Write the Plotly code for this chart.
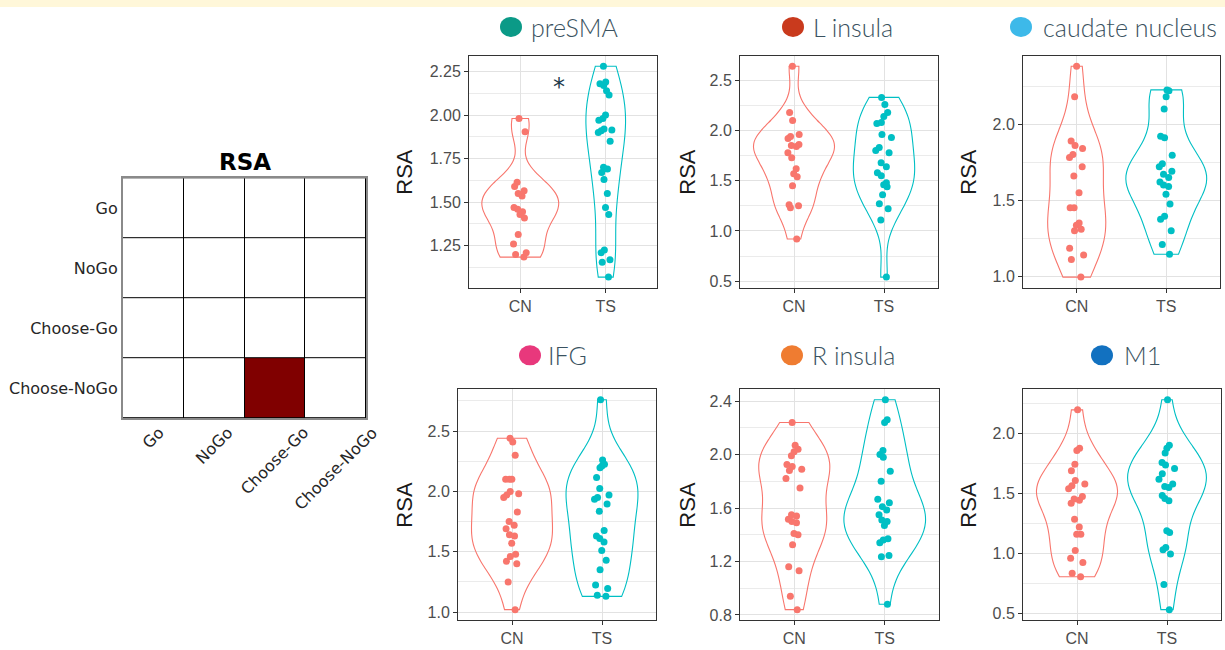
import numpy as np
import plotly.graph_objects as go

W, H = 1225, 650

# ---------------- data ----------------
groups = ["CN", "TS"]
group_colors = ["#F8766D", "#00BFC4"]

conditions = ["Go", "NoGo", "Choose-Go", "Choose-NoGo"]
rsa_matrix = [
    [0, 0, 0, 0],
    [0, 0, 0, 0],
    [0, 0, 0, 0],
    [0, 0, 1, 0],
]

regions = ["preSMA", "L insula", "caudate nucleus", "IFG", "R insula", "M1"]
region_colors = ["#0b9a87", "#c93a1d", "#3db9e9", "#e8387c", "#ef7c31", "#1271c0"]

presma_cn = [1.98, 1.905, 1.615, 1.59, 1.565, 1.55, 1.535, 1.47, 1.46, 1.445, 1.43,
             1.41, 1.315, 1.26, 1.21, 1.20, 1.185]
presma_ts = [2.28, 2.19, 2.18, 2.17, 2.14, 2.115, 2.00, 1.98, 1.97, 1.92, 1.915, 1.91,
             1.90, 1.85, 1.70, 1.69, 1.67, 1.63, 1.55, 1.47, 1.43, 1.225, 1.21, 1.17,
             1.155, 1.07]

linsula_cn = [2.64, 2.18, 2.10, 1.96, 1.94, 1.92, 1.86, 1.85, 1.84, 1.78, 1.73, 1.62,
              1.57, 1.54, 1.45, 1.26, 1.25, 1.23, 0.92]
linsula_ts = [2.33, 2.26, 2.18, 2.14, 2.08, 2.07, 1.96, 1.93, 1.83, 1.80, 1.78, 1.68,
              1.64, 1.58, 1.55, 1.48, 1.46, 1.44, 1.36, 1.27, 1.22, 1.11, 0.54]

caudate_cn = [2.38, 2.18, 1.89, 1.86, 1.84, 1.80, 1.78, 1.72, 1.66, 1.55, 1.45, 1.45,
              1.35, 1.335, 1.31, 1.30, 1.185, 1.14, 1.11, 0.995]
caudate_ts = [2.225, 2.22, 2.18, 2.10, 1.92, 1.91, 1.795, 1.74, 1.72, 1.69, 1.67, 1.65,
              1.62, 1.60, 1.59, 1.54, 1.475, 1.395, 1.375, 1.30, 1.21, 1.145]

ifg_cn = [2.44, 2.41, 2.30, 2.10, 2.10, 2.10, 2.00, 1.98, 1.97, 1.95, 1.83, 1.75, 1.72,
          1.69, 1.64, 1.63, 1.57, 1.48, 1.46, 1.42, 1.40, 1.25, 1.02]
ifg_ts = [2.76, 2.26, 2.225, 2.21, 2.195, 2.115, 2.025, 1.97, 1.95, 1.935, 1.895, 1.835,
          1.675, 1.63, 1.61, 1.58, 1.51, 1.43, 1.35, 1.225, 1.195, 1.14, 1.13]

rinsula_cn = [2.24, 2.07, 2.04, 2.02, 1.99, 1.925, 1.91, 1.89, 1.88, 1.82, 1.75, 1.55,
              1.54, 1.515, 1.50, 1.49, 1.41, 1.40, 1.325, 1.16, 1.13, 0.94, 0.84]
rinsula_ts = [2.41, 2.26, 2.24, 2.03, 2.00, 1.98, 1.875, 1.80, 1.665, 1.64, 1.61, 1.585,
              1.55, 1.51, 1.50, 1.47, 1.37, 1.36, 1.34, 1.245, 1.235, 0.88]

m1_cn = [2.20, 1.88, 1.86, 1.745, 1.69, 1.61, 1.58, 1.565, 1.54, 1.475, 1.455, 1.445,
         1.42, 1.285, 1.22, 1.16, 1.16, 1.025, 0.96, 0.925, 0.835, 0.805]
m1_ts = [2.285, 1.905, 1.88, 1.84, 1.76, 1.74, 1.71, 1.665, 1.62, 1.58, 1.56, 1.55,
         1.485, 1.46, 1.44, 1.19, 1.175, 1.05, 1.03, 0.995, 0.74, 0.53]

region_data = [
    (presma_cn, presma_ts),
    (linsula_cn, linsula_ts),
    (caudate_cn, caudate_ts),
    (ifg_cn, ifg_ts),
    (rinsula_cn, rinsula_ts),
    (m1_cn, m1_ts),
]
y_dticks = [0.25, 0.5, 0.5, 0.5, 0.4, 0.5]
y_formats = [".2f", ".1f", ".1f", ".1f", ".1f", ".1f"]

# ---------------- layout geometry (pixels) ----------------
panel_boxes = [
    (469, 657, 56, 289), (740, 938, 56, 289), (1023, 1220, 56, 289),
    (458, 656, 391, 623), (740, 939, 391, 623), (1023, 1221, 391, 623),
]
ytitle_x = [405, 688, 969, 405, 688, 969]
title_pos = [  # dot centre x, text start x, centre y
    (511, 529, 27), (793, 811, 27), (1021, 1041, 27),
    (530, 546, 357), (792, 810, 357), (1102, 1122, 357),
]
hm_box = (123, 366, 179, 420)

TICK_FONT = dict(family="Liberation Sans, Arial, sans-serif", size=16, color="#4d4d4d")
TITLE_COLOR = "#3a5260"


def px_x(p):
    return p / W


def px_y(p):
    return 1 - p / H


def bw_nrd0(v):
    v = np.asarray(v, dtype=float)
    sd = v.std(ddof=1)
    q75, q25 = np.percentile(v, [75, 25])
    lo = min(sd, (q75 - q25) / 1.34)
    return 0.9 * lo * len(v) ** -0.2


def max_kde(v, bw):
    v = np.asarray(v, dtype=float)
    grid = np.linspace(v.min(), v.max(), 600)
    d = np.exp(-0.5 * ((grid[:, None] - v[None, :]) / bw) ** 2).sum(1)
    return (d / (len(v) * bw * np.sqrt(2 * np.pi))).max()


fig = go.Figure()
layout = dict(
    width=W, height=H, margin=dict(l=0, r=0, t=0, b=0),
    paper_bgcolor="white", plot_bgcolor="white", showlegend=False,
    violinmode="overlay",
)
annotations = []
shapes = [
    dict(type="rect", xref="paper", yref="paper", x0=0, x1=1, y0=px_y(7), y1=1,
         fillcolor="#fff7d9", line_width=0, layer="below"),
]

for i, (vals_pair, (x0, x1, y0, y1)) in enumerate(zip(region_data, panel_boxes)):
    k = i + 1
    xa = "x" if k == 1 else f"x{k}"
    ya = "y" if k == 1 else f"y{k}"
    bws = [bw_nrd0(v) for v in vals_pair]
    mks = [max_kde(v, b) for v, b in zip(vals_pair, bws)]
    widths = [0.9 * m / max(mks) for m in mks]
    for g, col, vals, bw, w in zip(groups, group_colors, vals_pair, bws, widths):
        fig.add_trace(go.Violin(
            x=[g] * len(vals), y=vals, name=g, xaxis=xa, yaxis=ya,
            line=dict(color=col, width=1.1), fillcolor="rgba(0,0,0,0)",
            points="all", pointpos=0, jitter=min(1.0, 0.1 / (w / 2)),
            marker=dict(size=7, color=col), spanmode="hard", bandwidth=bw,
            width=w, scalemode="width", showlegend=False, hoverinfo="y",
        ))
    allv = list(vals_pair[0]) + list(vals_pair[1])
    lo, hi = min(allv), max(allv)
    pad = 0.05 * (hi - lo)
    dt = y_dticks[i]
    layout["xaxis" if k == 1 else f"xaxis{k}"] = dict(
        domain=[px_x(x0), px_x(x1)], anchor=ya, type="category",
        categoryorder="array", categoryarray=groups, range=[-0.6, 1.6],
        showgrid=True, gridcolor="#e2e2e2", gridwidth=1, zeroline=False,
        ticks="outside", ticklen=4, tickcolor="#333333", tickwidth=1,
        showline=True, mirror=True, linecolor="#333333", linewidth=1,
        tickfont=TICK_FONT, fixedrange=True,
    )
    layout["yaxis" if k == 1 else f"yaxis{k}"] = dict(
        domain=[px_y(y1), px_y(y0)], anchor=xa, range=[lo - pad, hi + pad],
        tick0=0, dtick=dt, tickformat=y_formats[i],
        showgrid=True, gridcolor="#e2e2e2", gridwidth=1, zeroline=False,
        minor=dict(tick0=0, dtick=dt / 2, showgrid=True, gridcolor="#ebebeb",
                   gridwidth=0.8, ticks=""),
        ticks="outside", ticklen=4, tickcolor="#333333", tickwidth=1,
        showline=True, mirror=True, linecolor="#333333", linewidth=1,
        tickfont=TICK_FONT, fixedrange=True,
    )
    # y axis title
    annotations.append(dict(
        x=px_x(ytitle_x[i]), y=px_y((y0 + y1) / 2), xref="paper", yref="paper",
        text="RSA", textangle=-90, showarrow=False, xanchor="center", yanchor="middle",
        font=dict(family="Liberation Sans, Arial, sans-serif", size=22, color="#1a1a1a"),
    ))
    # region title with coloured dot
    dcx, tx, ty = title_pos[i]
    shapes.append(dict(
        type="circle", xref="paper", yref="paper", xsizemode="pixel", ysizemode="pixel",
        xanchor=px_x(dcx), yanchor=px_y(ty), x0=-11, x1=11, y0=-10, y1=10,
        fillcolor=region_colors[i], line_width=0,
    ))
    annotations.append(dict(
        x=px_x(tx), y=px_y(ty), xref="paper", yref="paper", text=regions[i],
        showarrow=False, xanchor="left", yanchor="middle",
        font=dict(family="Lato, sans-serif", size=25, color=TITLE_COLOR, weight=300),
    ))

# significance star on preSMA panel
annotations.append(dict(
    x=0.45, y=2.16, xref="x", yref="y", text="*", showarrow=False,
    xanchor="center", yanchor="middle",
    font=dict(family="DejaVu Sans, sans-serif", size=24, color="#1d3a4a"),
))

# ---------------- RSA model matrix ----------------
fig.add_trace(go.Heatmap(
    z=rsa_matrix, x=list(range(len(conditions))), y=list(range(len(conditions))),
    colorscale=[[0, "#ffffff"], [1, "#800000"]], zmin=0, zmax=1, showscale=False,
    xgap=1, ygap=1, xaxis="x7", yaxis="y7", hoverinfo="skip",
))
hx0, hx1, hy0, hy1 = hm_box
HM_FONT = dict(family="DejaVu Sans, sans-serif", size=16, color="#262626")
layout["xaxis7"] = dict(
    domain=[px_x(hx0), px_x(hx1)], anchor="y7", range=[-0.5, 3.5],
    showgrid=False, zeroline=False, showticklabels=False, ticks="",
    showline=True, mirror=True, linecolor="#8a8a8a", linewidth=2, fixedrange=True,
)
layout["yaxis7"] = dict(
    domain=[px_y(hy1), px_y(hy0)], anchor="x7", range=[3.5, -0.5],
    tickvals=list(range(len(conditions))), ticktext=conditions,
    showgrid=False, zeroline=False, ticks="", tickfont=HM_FONT,
    showline=True, mirror=True, linecolor="#8a8a8a", linewidth=2, fixedrange=True,
)
shapes.append(dict(type="rect", xref="x7 domain", yref="y7 domain", x0=0, x1=1, y0=0, y1=1,
                   fillcolor="#000000", line_width=0, layer="below"))
for j, c in enumerate(conditions):
    annotations.append(dict(
        x=j, y=px_y(hy1), xref="x7", yref="paper", text=c, textangle=-45,
        showarrow=False, xanchor="center", yanchor="top", yshift=-2, font=HM_FONT,
    ))
annotations.append(dict(
    x=px_x((hx0 + hx1) / 2), y=px_y(163), xref="paper", yref="paper", text="<b>RSA</b>",
    showarrow=False, xanchor="center", yanchor="middle",
    font=dict(family="DejaVu Sans, sans-serif", size=23, color="#000000"),
))

layout["annotations"] = annotations
layout["shapes"] = shapes
fig.update_layout(**layout)
fig.write_html(
    "out.html",
    config={"displayModeBar": False},
    post_script="document.body.style.margin='0px';document.body.style.overflow='hidden';",
)
